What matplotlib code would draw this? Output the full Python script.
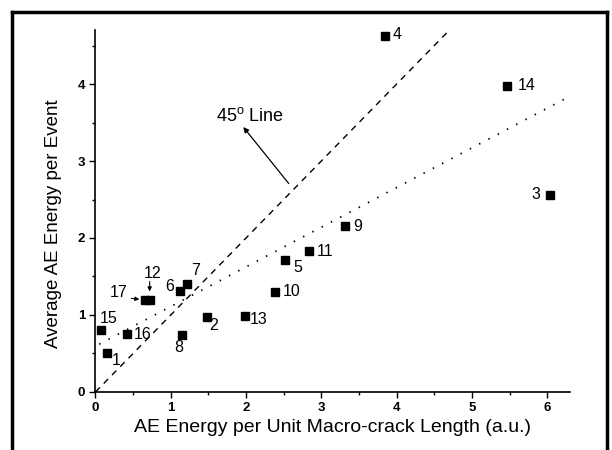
"""
AE energy per event vs AE energy per unit macro-crack length.
"""

import matplotlib
matplotlib.use('Agg')
import matplotlib.pyplot as plt
from matplotlib.lines import Line2D
from matplotlib.ticker import MultipleLocator

# Specimen data
specimen_ids = [str(k) for k in range(1, 18)]
energy_per_length = [0.15, 1.48, 6.04, 3.84, 2.52, 1.12, 1.22, 1.15, 3.32,
                     2.38, 2.83, 0.73, 1.98, 5.46, 0.07, 0.42, 0.66]
energy_per_event = [0.50, 0.97, 2.56, 4.62, 1.71, 1.31, 1.40, 0.74, 2.15,
                    1.30, 1.83, 1.20, 0.99, 3.97, 0.81, 0.75, 1.20]

# 45 degree reference line and the dotted trend line
ref_x = [0.0, 4.74]
ref_y = [0.0, 4.74]
trend_x = [0.05, 6.28]
trend_y = [0.62, 3.83]

x_ticks = [0, 1, 2, 3, 4, 5, 6]
y_ticks = [0, 1, 2, 3, 4]

# label offsets (points) for each specimen number
label_offsets = {
    '1': (7, -5), '2': (5, -6), '3': (-10, 0.5), '4': (9, 1), '5': (9, -5),
    '6': (-7, 3), '7': (6, 10), '8': (-2.5, -9), '9': (9, 0), '10': (12, 0),
    '11': (12, 0), '12': (1.5, 18.5), '13': (10.5, -2.5), '14': (14.5, 0.5),
    '15': (6, 8), '16': (11, 0), '17': (-19, 5),
}

plt.rcParams['font.family'] = ['Liberation Sans', 'DejaVu Sans']

fig = plt.figure(figsize=(6.12, 4.5), dpi=100)
ax = fig.add_axes([0.156, 0.129, 0.775, 0.804])

ax.plot(ref_x, ref_y, color='black', linewidth=1.0, dashes=(4.5, 4))
ax.plot(trend_x, trend_y, color='black', linewidth=1.3, linestyle=(0, (0.8, 5)))
ax.plot(energy_per_length, energy_per_event, 's', color='black', markersize=5.5,
        linestyle='none')

for sid, xv, yv in zip(specimen_ids, energy_per_length, energy_per_event):
    ax.annotate(sid, (xv, yv), xytext=label_offsets[sid], textcoords='offset points',
                ha='center', va='center', fontsize=11.5)

# small arrows for the overlapping specimens 12 and 17
arrow_small = dict(arrowstyle='-|>', color='black', lw=0.8, mutation_scale=6)
ax.annotate('', xy=(0.72, 1.27), xytext=(0.72, 1.47), arrowprops=arrow_small)
ax.annotate('', xy=(0.62, 1.20), xytext=(0.44, 1.22), arrowprops=arrow_small)

# 45 degree line label with its arrow
ax.annotate('', xy=(1.94, 3.47), xytext=(2.59, 2.68),
            arrowprops=dict(arrowstyle='-|>', color='black', lw=0.9,
                            mutation_scale=8))
ax.text(2.05, 3.59, '45$^{\\mathregular{o}}$ Line', fontsize=13,
        ha='center', va='center')

ax.set_xlim(0, 6.3)
ax.set_ylim(0, 4.7)
ax.set_xticks(x_ticks)
ax.set_yticks(y_ticks)
ax.xaxis.set_minor_locator(MultipleLocator(0.5))
ax.yaxis.set_minor_locator(MultipleLocator(0.5))
ax.tick_params(which='major', direction='out', length=4, width=1, labelsize=9.5)
ax.tick_params(which='minor', direction='out', length=2.5, width=1)
for lab in ax.get_xticklabels() + ax.get_yticklabels():
    lab.set_fontweight('bold')

ax.spines['top'].set_visible(False)
ax.spines['right'].set_visible(False)
ax.spines['left'].set_linewidth(1.2)
ax.spines['bottom'].set_linewidth(1.2)

ax.set_xlabel('AE Energy per Unit Macro-crack Length (a.u.)', fontsize=14,
              labelpad=3)
ax.set_ylabel('Average AE Energy per Event', fontsize=13.5)
ax.yaxis.set_label_coords(-0.07, 0.465)

# outer frame of the scanned figure
for xs, ys in [([0.02, 0.02], [0.0, 0.973]), ([0.02, 0.992], [0.973, 0.973]),
               ([0.992, 0.992], [0.0, 0.973])]:
    fig.add_artist(Line2D(xs, ys, transform=fig.transFigure, color='black',
                          linewidth=2.5))

fig.savefig('out.png', dpi=100)
